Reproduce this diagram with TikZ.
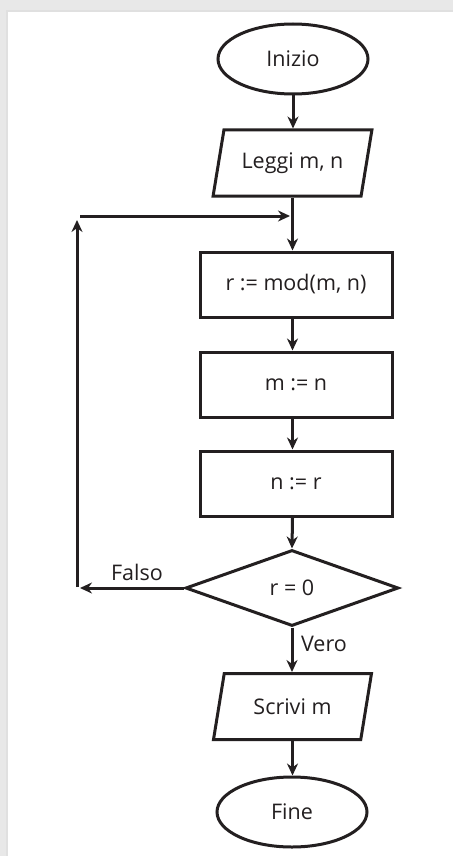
\documentclass[tikz,border=0pt]{standalone}
\usepackage{fontspec}
\setmainfont{Open Sans}
\usetikzlibrary{shapes.geometric,arrows.meta}
\definecolor{ink}{HTML}{231F20}
\tikzset{
  base/.style={draw=ink,line width=3pt,text=ink,font=\fontsize{21.5}{26}\selectfont,inner sep=0pt},
  term/.style={base,ellipse,minimum width=150pt,minimum height=70pt},
  io/.style={base,trapezium,trapezium left angle=69,trapezium right angle=111,
     trapezium stretches=true,minimum width=159pt,minimum height=66pt},
  proc/.style={base,rectangle,minimum width=192pt,minimum height=65pt},
  dec/.style={base,diamond,minimum width=213pt,minimum height=76pt},
  arr/.style={draw=ink,line width=3pt,-{Stealth[length=12pt,width=11pt]}},
  lbl/.style={text=ink,font=\fontsize{21.5}{26}\selectfont,inner sep=0pt}
}
\begin{document}
\begin{tikzpicture}[x=1pt,y=-1pt]
\useasboundingbox (0,0) rectangle (453,856);
\fill[black!9] (0,0) rectangle (453,856);
\fill[black!12] (6,10) rectangle (453,856);
\fill[white] (8,12) rectangle (453,856);
\node[term] (ini) at (293,59) {Inizio};
\node[io] (leg) at (292.5,163) {Leggi m, n};
\node[proc] (r1) at (296,284.5) {r := mod(m, n)};
\node[proc] (m1) at (296,384.5) {m := n};
\node[proc] (n1) at (296,483.5) {n := r};
\node[dec] (d) at (292,588) {r = 0};
\node[io] (scr) at (292.5,706.5) {Scrivi m};
\node[term] (fin) at (292,812) {Fine};
\coordinate (fa) at (80,588);
\coordinate (lb) at (77,587);
\coordinate (lt) at (77,220);
\coordinate (hs) at (80,216);
\coordinate (j) at (290,216);
\draw[arr] (ini.south) -- (ini.south |- leg.north);
\draw[arr] (leg.south) -- (leg.south |- r1.north);
\draw[arr] (r1.south -| leg.south) -- (m1.north -| leg.south);
\draw[arr] (m1.south -| leg.south) -- (n1.north -| leg.south);
\draw[arr] (n1.south -| leg.south) -- (d.north);
\draw[arr] (d.south) -- (d.south |- scr.north);
\draw[arr] (scr.south) -- (scr.south |- fin.north);
\draw[arr] (d.west) -- (fa);
\draw[arr] (lb) -- (lt);
\draw[arr] (hs) -- (j);
\node[lbl] (falso) at (137,572) {Falso};
\node[lbl] (vero) at (324,644) {Vero};
\end{tikzpicture}
\end{document}
